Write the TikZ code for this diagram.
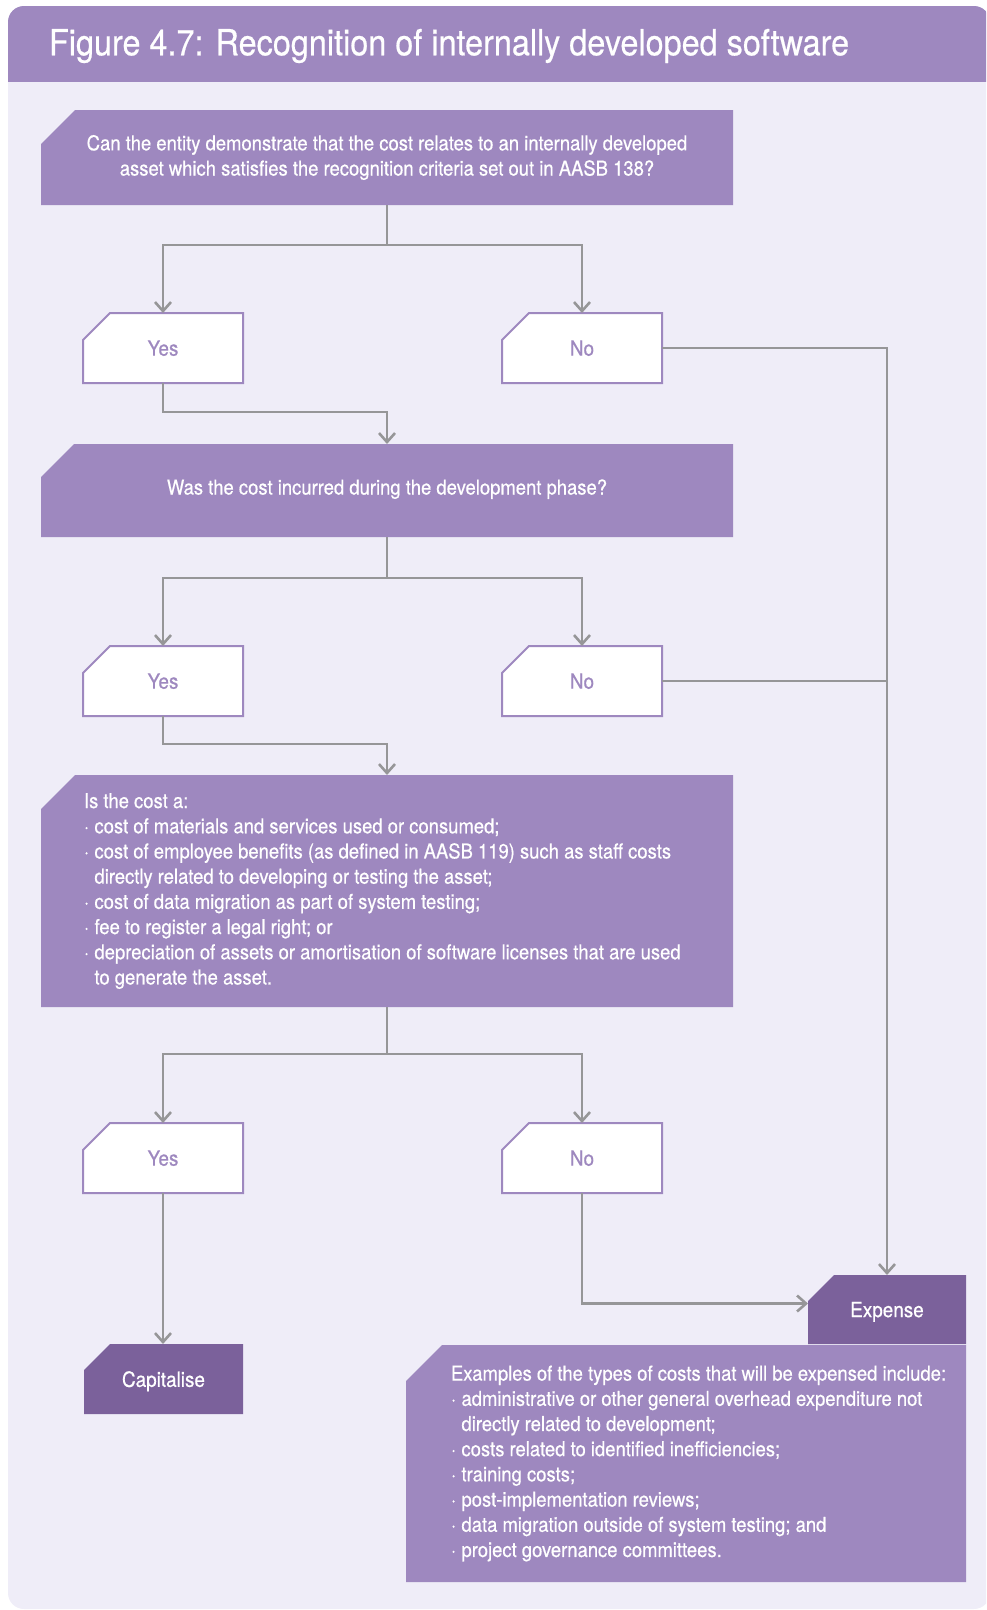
\documentclass[tikz,border=0pt]{standalone}
\usepackage{fontspec}
\setmainfont{TeX Gyre Heros}[FakeStretch=0.90,FakeBold=0.5]
\usetikzlibrary{arrows.meta,calc}

\definecolor{lav}{RGB}{158,136,191}
\definecolor{plum}{RGB}{123,97,155}
\definecolor{paper}{RGB}{239,237,248}
\definecolor{linegrey}{RGB}{150,150,152}

\pgfdeclarelayer{panel}
\pgfdeclarelayer{boxes}
\pgfsetlayers{panel,boxes,main}

\newcommand\txtbody{\fontsize{20.5}{25.2}\selectfont}
\newcommand\txtans{\fontsize{21}{24}\selectfont}
\newcommand\txttitle{\fontsize{36}{42}\selectfont}
\newcommand\bul{\makebox[10.5pt][l]{·}}
\newcommand\hang{\hspace*{10.5pt}}
% natural word spacing inside the left-aligned text blocks
\newcommand\tightspace{\spaceskip=5.1pt plus 1pt minus 1pt\xspaceskip=5.1pt\relax}

\begin{document}
\begin{tikzpicture}[x=1pt,y=-1pt,
  base/.style={inner sep=0pt, outer sep=0pt},
  ask/.style={base, minimum width=692pt, text=white, font=\txtbody},
  ans/.style={base, minimum width=160pt, minimum height=70pt, text depth=0pt, text=lav, font=\txtans},
  res/.style={base, minimum height=70pt, text depth=0pt, text=white, font=\txtans},
  askshape/.style={fill=lav},
  ansshape/.style={fill=white, draw=lav, line width=2pt},
  resshape/.style={fill=plum},
  link/.style={draw=linegrey, line width=2.8pt},
  flow/.style={link, -{Straight Barb[length=9pt,width=16pt,line width=2.6pt]}}]

\useasboundingbox (0,0) rectangle (986,1610);

% panel and title bar
\begin{pgfonlayer}{panel}
  \clip (0,0) rectangle (986,1610);
  \fill[paper, rounded corners=16pt] (8,6) rectangle (990,1609);
  \begin{scope}
    \clip[rounded corners=16pt] (8,6) rectangle (990,1609);
    \fill[lav] (0,0) rectangle (1000,82);
  \end{scope}
\end{pgfonlayer}

\node[base, anchor=west, text=white, font=\txttitle] (title) at (49,46)
  {Figure 4.7: Recognition of internally developed software};

% questions
\node[ask, minimum height=95pt, align=center] (q1) at (387,157.5)
  {Can the entity demonstrate that the cost relates to an internally developed\\
   asset which satisfies the recognition criteria set out in AASB 138?};

\node[ask, minimum height=93pt, text height=14pt, text depth=6pt] (q2) at (387,490.5)
  {Was the cost incurred during the development phase?};

\node[ask, minimum height=232pt, text width=606pt, inner xsep=43pt, align=left] (q3) at (387,891)
  {\tightspace
   \mbox{Is the cost a:}\\
   \mbox{\bul cost of materials and services used or consumed;}\\
   \mbox{\bul cost of employee benefits (as defined in AASB 119) such as staff costs}\\
   \mbox{\hang directly related to developing or testing the asset;}\\
   \mbox{\bul cost of data migration as part of system testing;}\\
   \mbox{\bul fee to register a legal right; or}\\
   \mbox{\bul depreciation of assets or amortisation of software licenses that are used}\\
   \mbox{\hang to generate the asset.}};

% answers
\node[ans] (y1) at (163,348) {Yes};
\node[ans] (n1) at (582,348) {No};
\node[ans] (y2) at (163,681) {Yes};
\node[ans] (n2) at (582,681) {No};
\node[ans] (y3) at (163,1158) {Yes};
\node[ans] (n3) at (582,1158) {No};

% outcomes
\node[res, minimum width=159pt] (cap) at (163.5,1379) {Capitalise};
\node[res, minimum width=158pt, minimum height=69pt] (exp) at (887,1309.5) {Expense};

\node[base, minimum width=560pt, minimum height=237pt, text width=470pt, inner xsep=45pt,
      align=left, text=white, font=\txtbody] (ex) at (686,1463.5)
  {\tightspace
   \mbox{Examples of the types of costs that will be expensed include:}\\
   \mbox{\bul administrative or other general overhead expenditure not}\\
   \mbox{\hang directly related to development;}\\
   \mbox{\bul costs related to identified inefficiencies;}\\
   \mbox{\bul training costs;}\\
   \mbox{\bul post-implementation reviews;}\\
   \mbox{\bul data migration outside of system testing; and}\\
   \mbox{\bul project governance committees.}};

% chamfered box outlines under the text
\begin{pgfonlayer}{boxes}
  \foreach \nd/\cut/\sty in {q1/34/askshape, q2/33/askshape, q3/34/askshape,
      y1/27/ansshape, n1/27/ansshape, y2/27/ansshape, n2/27/ansshape,
      y3/27/ansshape, n3/27/ansshape, cap/26/resshape, exp/26/resshape, ex/36/askshape}
    \path[\sty] ([xshift=\cut pt]\nd.north west) -- (\nd.north east) -- (\nd.south east)
      -- (\nd.south west) -- ([yshift=-\cut pt]\nd.north west) -- cycle;
\end{pgfonlayer}

% connectors
\draw[flow] (q1.south) -- ++(0,40) -| (y1.north);
\draw[flow] (q1.south) -- ++(0,40) -| (n1.north);
\draw[flow] (y1.south) -- ++(0,29) -| (q2.north);
\draw[flow] (n1.east) -| (exp.north);

\draw[flow] (q2.south) -- ++(0,41) -| (y2.north);
\draw[flow] (q2.south) -- ++(0,41) -| (n2.north);
\draw[link] (n2.east) -- (n2.east -| exp.north);
\draw[flow] (y2.south) -- ++(0,28) -| (q3.north);

\draw[flow] (q3.south) -- ++(0,47) -| (y3.north);
\draw[flow] (q3.south) -- ++(0,47) -| (n3.north);
\draw[flow] (y3.south) -- (y3.south |- cap.north);
\draw[flow] (n3.south) |- ([yshift=6pt]exp.west);

\end{tikzpicture}
\end{document}
